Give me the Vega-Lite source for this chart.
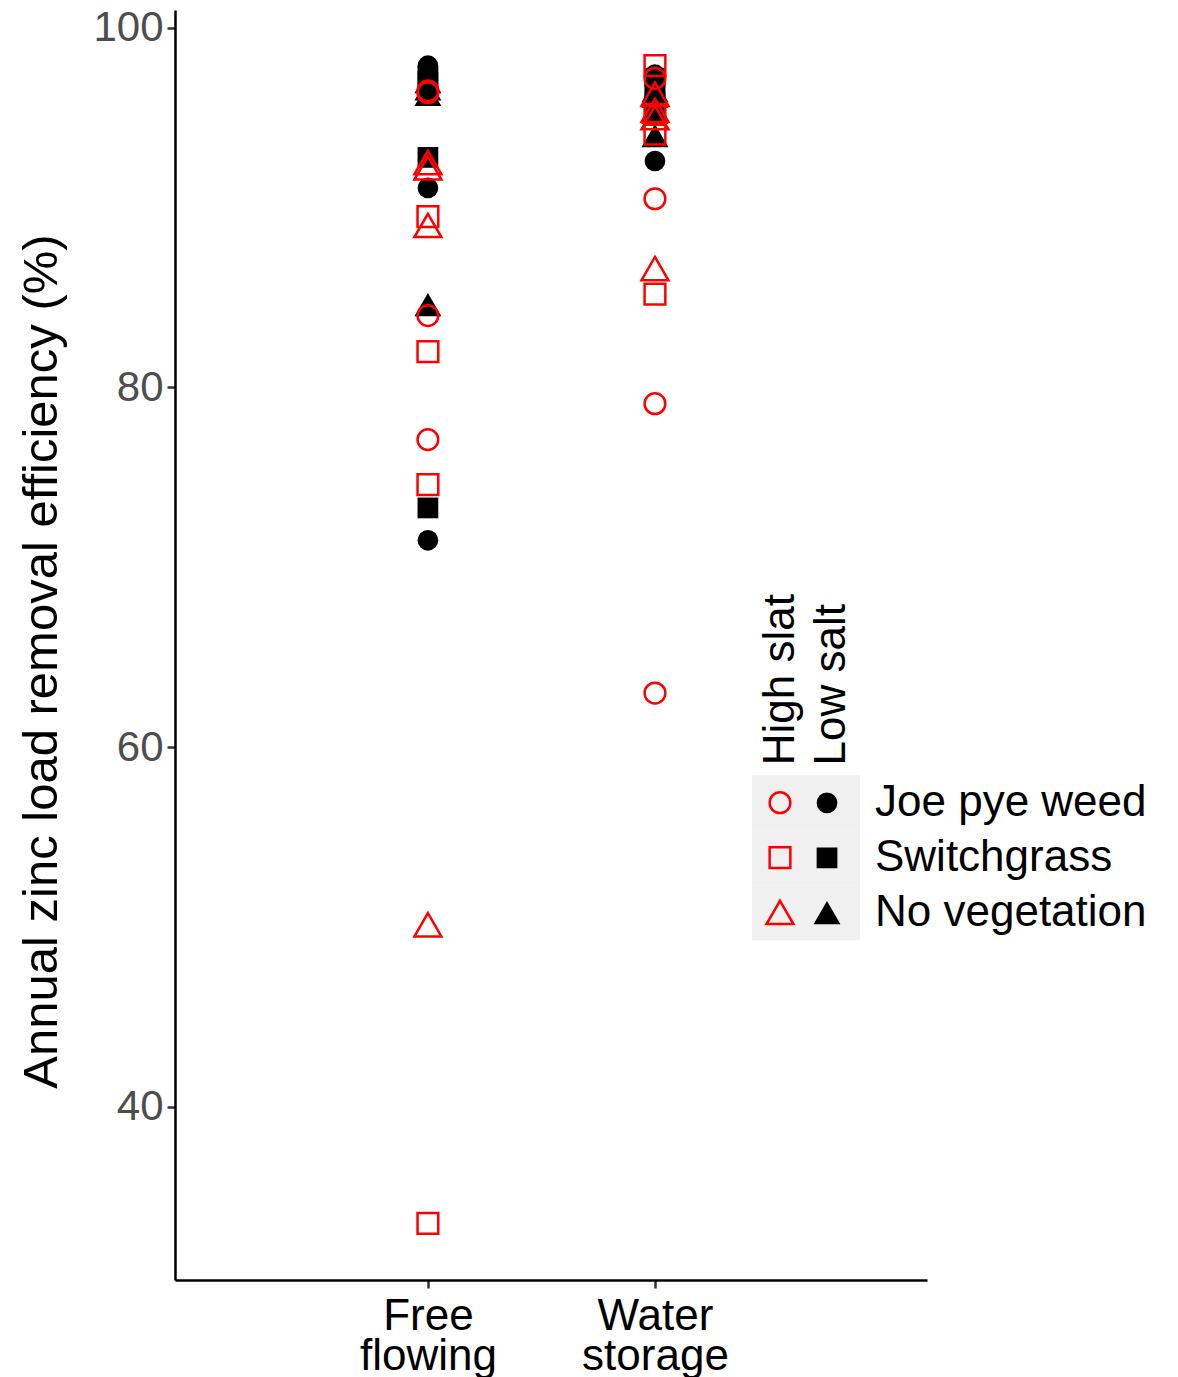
{
  "$schema": "https://vega.github.io/schema/vega-lite/v6.json",
  "autosize": {"type": "none"},
  "padding": {"left": 175, "top": 10, "right": 251, "bottom": 97},
  "width": 752,
  "height": 1270,
  "background": "white",
  "config": {"font": "Liberation Sans", "view": {"stroke": null}, "axis": {"grid": false}},
  "data": {"values": [
    {"system": "Free flowing", "salt": "Low salt", "vegetation": "Joe pye weed", "efficiency": 97.9},
    {"system": "Free flowing", "salt": "Low salt", "vegetation": "Joe pye weed", "efficiency": 97.5},
    {"system": "Free flowing", "salt": "Low salt", "vegetation": "Joe pye weed", "efficiency": 91.1},
    {"system": "Free flowing", "salt": "Low salt", "vegetation": "Joe pye weed", "efficiency": 71.5},
    {"system": "Free flowing", "salt": "Low salt", "vegetation": "Switchgrass", "efficiency": 97.3},
    {"system": "Free flowing", "salt": "Low salt", "vegetation": "Switchgrass", "efficiency": 96.9},
    {"system": "Free flowing", "salt": "Low salt", "vegetation": "Switchgrass", "efficiency": 92.8},
    {"system": "Free flowing", "salt": "Low salt", "vegetation": "Switchgrass", "efficiency": 73.3},
    {"system": "Free flowing", "salt": "Low salt", "vegetation": "No vegetation", "efficiency": 97.0},
    {"system": "Free flowing", "salt": "Low salt", "vegetation": "No vegetation", "efficiency": 96.6},
    {"system": "Free flowing", "salt": "Low salt", "vegetation": "No vegetation", "efficiency": 96.3},
    {"system": "Free flowing", "salt": "Low salt", "vegetation": "No vegetation", "efficiency": 84.6},
    {"system": "Water storage", "salt": "Low salt", "vegetation": "Joe pye weed", "efficiency": 97.4},
    {"system": "Water storage", "salt": "Low salt", "vegetation": "Joe pye weed", "efficiency": 97.0},
    {"system": "Water storage", "salt": "Low salt", "vegetation": "Joe pye weed", "efficiency": 96.8},
    {"system": "Water storage", "salt": "Low salt", "vegetation": "Joe pye weed", "efficiency": 92.6},
    {"system": "Water storage", "salt": "Low salt", "vegetation": "Switchgrass", "efficiency": 97.2},
    {"system": "Water storage", "salt": "Low salt", "vegetation": "Switchgrass", "efficiency": 96.5},
    {"system": "Water storage", "salt": "Low salt", "vegetation": "Switchgrass", "efficiency": 96.0},
    {"system": "Water storage", "salt": "Low salt", "vegetation": "Switchgrass", "efficiency": 95.8},
    {"system": "Water storage", "salt": "Low salt", "vegetation": "No vegetation", "efficiency": 96.5},
    {"system": "Water storage", "salt": "Low salt", "vegetation": "No vegetation", "efficiency": 96.2},
    {"system": "Water storage", "salt": "Low salt", "vegetation": "No vegetation", "efficiency": 95.3},
    {"system": "Water storage", "salt": "Low salt", "vegetation": "No vegetation", "efficiency": 94.0},
    {"system": "Free flowing", "salt": "High slat", "vegetation": "Joe pye weed", "efficiency": 96.5},
    {"system": "Free flowing", "salt": "High slat", "vegetation": "Joe pye weed", "efficiency": 96.4},
    {"system": "Free flowing", "salt": "High slat", "vegetation": "Joe pye weed", "efficiency": 84.0},
    {"system": "Free flowing", "salt": "High slat", "vegetation": "Joe pye weed", "efficiency": 77.1},
    {"system": "Free flowing", "salt": "High slat", "vegetation": "Switchgrass", "efficiency": 89.5},
    {"system": "Free flowing", "salt": "High slat", "vegetation": "Switchgrass", "efficiency": 82.0},
    {"system": "Free flowing", "salt": "High slat", "vegetation": "Switchgrass", "efficiency": 74.6},
    {"system": "Free flowing", "salt": "High slat", "vegetation": "Switchgrass", "efficiency": 33.5},
    {"system": "Free flowing", "salt": "High slat", "vegetation": "No vegetation", "efficiency": 92.5},
    {"system": "Free flowing", "salt": "High slat", "vegetation": "No vegetation", "efficiency": 92.2},
    {"system": "Free flowing", "salt": "High slat", "vegetation": "No vegetation", "efficiency": 89.0},
    {"system": "Free flowing", "salt": "High slat", "vegetation": "No vegetation", "efficiency": 50.1},
    {"system": "Water storage", "salt": "High slat", "vegetation": "Joe pye weed", "efficiency": 97.2},
    {"system": "Water storage", "salt": "High slat", "vegetation": "Joe pye weed", "efficiency": 90.5},
    {"system": "Water storage", "salt": "High slat", "vegetation": "Joe pye weed", "efficiency": 79.1},
    {"system": "Water storage", "salt": "High slat", "vegetation": "Joe pye weed", "efficiency": 63.0},
    {"system": "Water storage", "salt": "High slat", "vegetation": "Switchgrass", "efficiency": 97.9},
    {"system": "Water storage", "salt": "High slat", "vegetation": "Switchgrass", "efficiency": 95.2},
    {"system": "Water storage", "salt": "High slat", "vegetation": "Switchgrass", "efficiency": 94.1},
    {"system": "Water storage", "salt": "High slat", "vegetation": "Switchgrass", "efficiency": 85.2},
    {"system": "Water storage", "salt": "High slat", "vegetation": "No vegetation", "efficiency": 96.3},
    {"system": "Water storage", "salt": "High slat", "vegetation": "No vegetation", "efficiency": 95.4},
    {"system": "Water storage", "salt": "High slat", "vegetation": "No vegetation", "efficiency": 95.0},
    {"system": "Water storage", "salt": "High slat", "vegetation": "No vegetation", "efficiency": 86.6}
  ]},
  "encoding": {
    "x": {
      "field": "system", "type": "nominal",
      "scale": {"type": "point", "domain": ["Free flowing", "Water storage", "zz"], "padding": 0.656, "align": 0.849},
      "axis": {"title": null, "values": ["Free flowing", "Water storage"], "labelExpr": "split(datum.label, ' ')", "labelAngle": 0, "labelFontSize": 44, "labelColor": "black", "labelLineHeight": 40, "labelPadding": 6, "labelBaseline": "top", "tickSize": 8, "tickWidth": 2.5, "tickColor": "#333333", "domainColor": "black", "domainWidth": 2.5}
    },
    "y": {
      "field": "efficiency", "type": "quantitative",
      "scale": {"domain": [30.35, 101], "nice": false, "zero": false},
      "axis": {"title": "Annual zinc load removal efficiency (%)", "values": [40, 60, 80, 100], "titleFontSize": 49, "titleFontWeight": "normal", "titleColor": "black", "titlePadding": 26, "titleY": 651, "labelFontSize": 42, "labelColor": "#4D4D4D", "labelPadding": 4, "tickSize": 8, "tickWidth": 2.5, "tickColor": "#333333", "domainColor": "black", "domainWidth": 2.5}
    }
  },
  "layer": [
    {
      "transform": [{"filter": "datum.salt === 'Low salt'"}],
      "mark": {"type": "point", "filled": true, "color": "black", "opacity": 1, "size": 430},
      "encoding": {
        "shape": {
          "field": "vegetation", "type": "nominal",
          "scale": {"domain": ["Joe pye weed", "Switchgrass", "No vegetation"], "range": ["circle", "square", "M0,-1.15L1.3,1.1L-1.3,1.1Z"]},
          "legend": {
            "title": "Low salt", "orient": "none", "legendX": 630, "legendY": 594, "padding": 0, "zindex": 2,
            "titlePadding": 10, "titleFontSize": 44, "titleFontWeight": "normal", "titleColor": "black", "titleAnchor": "start", "titleLimit": 400,
            "clipHeight": 55, "rowPadding": 0, "symbolSize": 430, "symbolOffset": 0, "symbolFillColor": "black", "symbolStrokeColor": "black",
            "labelOffset": 26, "labelFontSize": 44, "labelColor": "black", "labelLimit": 400,
            "encoding": {
              "title": {"angle": {"value": -90}, "align": {"value": "right"}, "baseline": {"value": "top"}, "dy": {"value": 5}}
            }
          }
        }
      }
    },
    {
      "transform": [{"filter": "datum.salt === 'High slat'"}],
      "mark": {"type": "point", "filled": false, "color": "red", "strokeWidth": 2.5, "opacity": 1, "size": 430},
      "encoding": {
        "shape": {
          "field": "vegetation", "type": "nominal",
          "scale": {"domain": ["Joe pye weed", "Switchgrass", "No vegetation"], "range": ["circle", "square", "M0,-1.15L1.3,1.1L-1.3,1.1Z"]},
          "legend": {
            "title": "High slat", "orient": "none", "legendX": 577, "legendY": 584, "padding": 0, "zindex": 1,
            "titlePadding": 10, "titleFontSize": 44, "titleFontWeight": "normal", "titleColor": "black", "titleAnchor": "start", "titleLimit": 400,
            "clipHeight": 55, "rowPadding": 0, "symbolSize": 430, "symbolOffset": 16, "symbolStrokeColor": "red", "symbolStrokeWidth": 2.5,
            "labelExpr": "''", "labelOffset": 68,
            "encoding": {
              "title": {"angle": {"value": -90}, "align": {"value": "right"}, "baseline": {"value": "top"}, "dy": {"value": 7}},
              "entries": {"fill": {"value": "#F0F0F0"}, "width": {"value": 108}}
            }
          }
        }
      }
    }
  ],
  "resolve": {"scale": {"shape": "independent"}, "legend": {"shape": "independent"}}
}
